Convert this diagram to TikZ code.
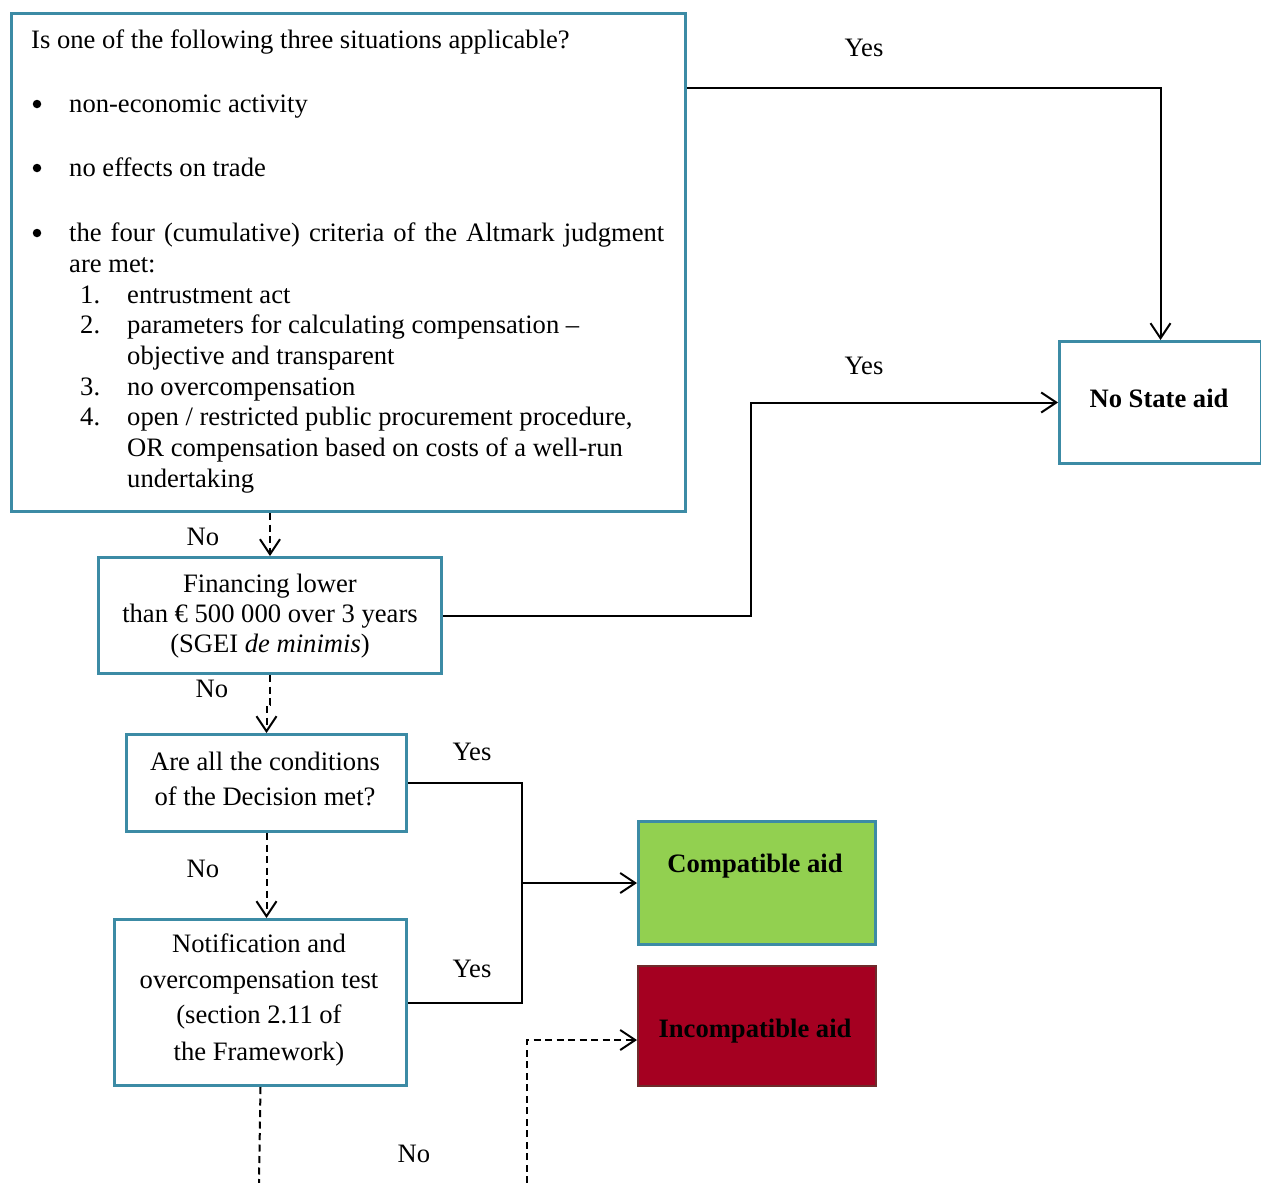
\documentclass[tikz,border=0pt]{standalone}
\usepackage{fontspec}
\setmainfont{Liberation Serif}
\usetikzlibrary{arrows.meta}
\definecolor{boxblue}{HTML}{3C8BA5}
\definecolor{compgreen}{HTML}{92D050}
\definecolor{incred}{HTML}{A50021}
\definecolor{incborder}{HTML}{6E2B2B}
\begin{document}
\begin{tikzpicture}[x=1pt,y=-1pt,
  font=\fontsize{26.6}{31}\selectfont,
  box/.style={draw=boxblue, line width=3pt, inner sep=0pt, anchor=north west},
  txt/.style={anchor=base west, inner sep=0pt},
  ctxt/.style={anchor=base, inner sep=0pt},
  bul/.style={circle, fill=black, inner sep=0pt, minimum size=8.5pt},
  bold/.style={font=\fontsize{26.6}{31}\selectfont\bfseries},
  link/.style={line width=2pt},
  conn/.style={link, -{Straight Barb[length=15pt,width=20pt]}},
  dlink/.style={link, dash pattern=on 7pt off 4.5pt},
  dconn/.style={dlink, -{Straight Barb[length=15pt,width=20pt]}}]
\useasboundingbox (0,0) rectangle (1261,1183);

% boxes
\node[box, minimum width=674pt, minimum height=498pt] (q1) at (10,12) {};
\node[box, minimum width=343pt, minimum height=116pt] (q2) at (97,556) {};
\node[box, minimum width=280pt, minimum height=97pt] (q3) at (125,733) {};
\node[box, minimum width=292pt, minimum height=166pt] (q4) at (113,918) {};
\node[box, minimum width=202pt, minimum height=122pt] (nsa) at (1058,340) {};
\node[box, fill=compgreen, minimum width=237pt, minimum height=123pt] (comp) at (637,820) {};
\node[box, draw=incborder, line width=2pt, fill=incred, minimum width=238pt, minimum height=120pt] (inc) at (637,965) {};

% text of the first box
\node[txt] (t0) at (31,48) {Is one of the following three situations applicable?};
\node[bul] (b1) at (37,104) {};
\node[txt] (t1) at (69,112) {non-economic activity};
\node[bul] (b2) at (37,168) {};
\node[txt] (t2) at (69,176) {no effects on trade};
\node[bul] (b3) at (37,233) {};
\node[txt] (t3) at (69,241) {\makebox[595pt][s]{the four (cumulative) criteria of the Altmark judgment}};
\node[txt] (t3b) at (69,272) {are met:};
\node[txt] (n1) at (80,303) {1.};
\node[txt] (i1) at (127,303) {entrustment act};
\node[txt] (n2) at (80,333) {2.};
\node[txt] (i2) at (127,333) {parameters for calculating compensation --};
\node[txt] (i2b) at (127,364) {objective and transparent};
\node[txt] (n3) at (80,395) {3.};
\node[txt] (i3) at (127,395) {no overcompensation};
\node[txt] (n4) at (80,425) {4.};
\node[txt] (i4) at (127,425) {open / restricted public procurement procedure,};
\node[txt] (i4b) at (127,456) {OR compensation based on costs of a well-run};
\node[txt] (i4c) at (127,487) {undertaking};

% text of other boxes
\node[ctxt] (f1) at (270,592) {Financing lower};
\node[ctxt] (f2) at (270,622) {than € 500 000 over 3 years};
\node[ctxt] (f3) at (270,652) {(SGEI \textit{de minimis})};
\node[ctxt] (d1) at (265,770) {Are all the conditions};
\node[ctxt] (d2) at (265,805) {of the Decision met?};
\node[ctxt] (o1) at (259,952) {Notification and};
\node[ctxt] (o2) at (259,988) {overcompensation test};
\node[ctxt] (o3) at (259,1023) {(section 2.11 of};
\node[ctxt] (o4) at (259,1060) {the Framework)};
\node[ctxt, bold] (nsat) at (1159,407) {No State aid};
\node[ctxt, bold] (compt) at (755,872) {Compatible aid};
\node[ctxt, bold] (inct) at (755,1037) {Incompatible aid};

% labels
\node[ctxt] (y1) at (864,56) {Yes};
\node[ctxt] (y2) at (864,374) {Yes};
\node[ctxt] (y3) at (472,760) {Yes};
\node[ctxt] (y4) at (472,977) {Yes};
\node[ctxt] (no1) at (203,545) {No};
\node[ctxt] (no2) at (212,697) {No};
\node[ctxt] (no3) at (203,877) {No};
\node[ctxt] (no4) at (414,1162) {No};

% connectors
\draw[conn] ([yshift=-76pt]q1.north east) -| (nsa.north);
\draw[conn] (q2.east) -- ++(308,0) |- (nsa.west);
\draw[dconn] (q1.south -| q2.north) -- (q2.north);
\draw[dconn] (q2.south) -- ++(0,30) -| (q3.north);
\draw[link] (q3.east) -- ++(114,0) coordinate (j1) |- (q4.east);
\draw[conn] (j1 |- comp.west) -- (comp.west);
\draw[dconn] (q3.south) -- (q3.south |- q4.north);
\coordinate (e1) at (259,1183);
\coordinate (e2) at (527,1183);
\draw[dlink] (q4.south) -- (e1);
\draw[dconn] (e2) |- ([yshift=-14pt]inc.west);
\end{tikzpicture}
\end{document}
